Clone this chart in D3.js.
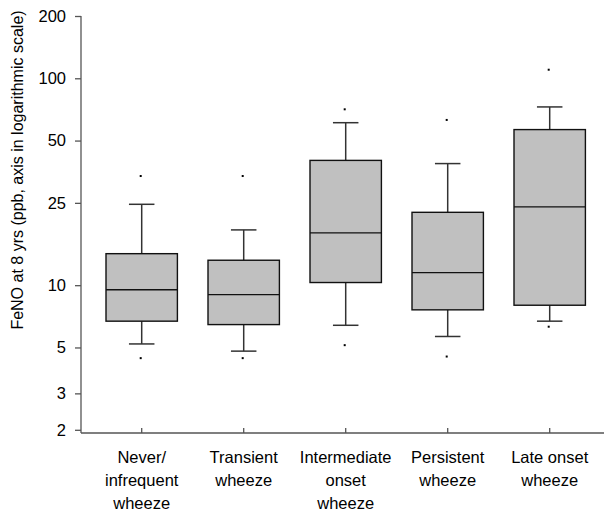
<!DOCTYPE html>
<html>
<head>
<meta charset="utf-8">
<script src="https://cdn.jsdelivr.net/npm/d3@7"></script>
<style>
  body { margin: 0; background: #fff; }
  text { font-family: "Liberation Sans", Arial, sans-serif; fill: #000; }
</style>
</head>
<body>
<svg id="chart" width="604" height="512"></svg>
<script>
// groups and their labels (one array entry per line)
var groups = ["Never/ infrequent", "Transient", "Intermediate onset", "Persistent", "Late onset"];
var groupLabels = [
  ["Never/", "infrequent", "wheeze"],
  ["Transient", "wheeze"],
  ["Intermediate", "onset", "wheeze"],
  ["Persistent", "wheeze"],
  ["Late onset", "wheeze"]
];

// box plot statistics (ppb)
var whiskerLow  = [5.2, 4.8, 6.4, 5.65, 6.7];
var q1          = [6.7, 6.45, 10.3, 7.6, 8.0];
var medians     = [9.5, 9.0, 17.9, 11.5, 23.9];
var q3          = [14.2, 13.2, 40.1, 22.5, 56.5];
var whiskerHigh = [24.6, 18.5, 61.0, 38.7, 72.7];
var outLow      = [4.44, 4.44, 5.13, 4.52, 6.3];
var outHigh     = [33.7, 33.7, 70.8, 62.9, 110];

var yTicks = [2, 3, 5, 10, 25, 50, 100, 200];

var margin = {left: 81, top: 16, bottom: 433};

var svg = d3.select("#chart");

var y = d3.scaleLog()
  .domain([1.93, 200])
  .range([margin.bottom, margin.top]);

var x = d3.scaleBand()
  .domain(groups)
  .range([90.7, 600.7])
  .padding(0);

var boxW = x.bandwidth() * 0.7;
var capW = x.bandwidth() * 0.25;

var rows = groups.map(function(g, i) {
  return {
    g: g, lo: whiskerLow[i], q1: q1[i], med: medians[i], q3: q3[i],
    hi: whiskerHigh[i], oLo: outLow[i], oHi: outHigh[i]
  };
});

function cx(d) { return x(d.g) + x.bandwidth() / 2; }

// y axis
var yAxis = svg.append("g")
  .attr("transform", "translate(" + margin.left + ",0)")
  .call(d3.axisLeft(y).tickValues(yTicks).tickFormat(d3.format("d")).tickSize(6).tickPadding(9));
yAxis.select(".domain").attr("d", "M0," + y(200) + "V" + margin.bottom).attr("stroke", "#555").attr("stroke-width", 1.3);
yAxis.selectAll(".tick line").attr("stroke", "#555").attr("stroke-width", 1.3);
yAxis.selectAll(".tick text").style("font-size", "16.5px").style("font-family", "Liberation Sans, Arial, sans-serif").attr("fill", "#000");

// x axis
var xAxis = svg.append("g")
  .attr("transform", "translate(0," + margin.bottom + ")")
  .call(d3.axisBottom(x).tickSize(5).tickFormat(""));
xAxis.select(".domain").attr("d", "M" + margin.left + ",0H604").attr("stroke", "#555").attr("stroke-width", 1.3);
xAxis.selectAll(".tick line").attr("y1", -5).attr("y2", 0).attr("stroke", "#555").attr("stroke-width", 1.3);

// multi-line category labels
groups.forEach(function(g, i) {
  var t = svg.append("text")
    .attr("x", x(g) + x.bandwidth() / 2)
    .attr("y", 463)
    .attr("text-anchor", "middle")
    .style("font-size", "16.5px");
  groupLabels[i].forEach(function(line, j) {
    t.append("tspan")
      .attr("x", x(g) + x.bandwidth() / 2)
      .attr("dy", j === 0 ? 0 : 22.8)
      .text(line);
  });
});

// y axis title
svg.append("text")
  .attr("transform", "translate(23,170) rotate(-90)")
  .attr("text-anchor", "middle")
  .style("font-size", "16px")
  .text("FeNO at 8 yrs (ppb, axis in logarithmic scale)");

var box = svg.append("g").selectAll("g")
  .data(rows)
  .enter().append("g");

// whiskers
box.append("line")
  .attr("x1", cx).attr("x2", cx)
  .attr("y1", function(d) { return y(d.hi); })
  .attr("y2", function(d) { return y(d.q3); })
  .attr("stroke", "#333").attr("stroke-width", 1.5);
box.append("line")
  .attr("x1", cx).attr("x2", cx)
  .attr("y1", function(d) { return y(d.q1); })
  .attr("y2", function(d) { return y(d.lo); })
  .attr("stroke", "#333").attr("stroke-width", 1.5);

// caps
["hi", "lo"].forEach(function(k) {
  box.append("line")
    .attr("x1", function(d) { return cx(d) - capW / 2; })
    .attr("x2", function(d) { return cx(d) + capW / 2; })
    .attr("y1", function(d) { return y(d[k]); })
    .attr("y2", function(d) { return y(d[k]); })
    .attr("stroke", "#333").attr("stroke-width", 1.5);
});

// boxes
box.append("rect")
  .attr("x", function(d) { return cx(d) - boxW / 2; })
  .attr("width", boxW)
  .attr("y", function(d) { return y(d.q3); })
  .attr("height", function(d) { return y(d.q1) - y(d.q3); })
  .attr("fill", "#c0c0c0")
  .attr("stroke", "#111").attr("stroke-width", 1.4);

// medians
box.append("line")
  .attr("x1", function(d) { return cx(d) - boxW / 2; })
  .attr("x2", function(d) { return cx(d) + boxW / 2; })
  .attr("y1", function(d) { return y(d.med); })
  .attr("y2", function(d) { return y(d.med); })
  .attr("stroke", "#111").attr("stroke-width", 1.4);

// outlier dots
["oHi", "oLo"].forEach(function(k) {
  box.append("rect")
    .attr("x", function(d) { return cx(d) - 2; })
    .attr("y", function(d) { return y(d[k]) - 1; })
    .attr("width", 2).attr("height", 2)
    .attr("fill", "#000");
});
</script>
</body>
</html>
